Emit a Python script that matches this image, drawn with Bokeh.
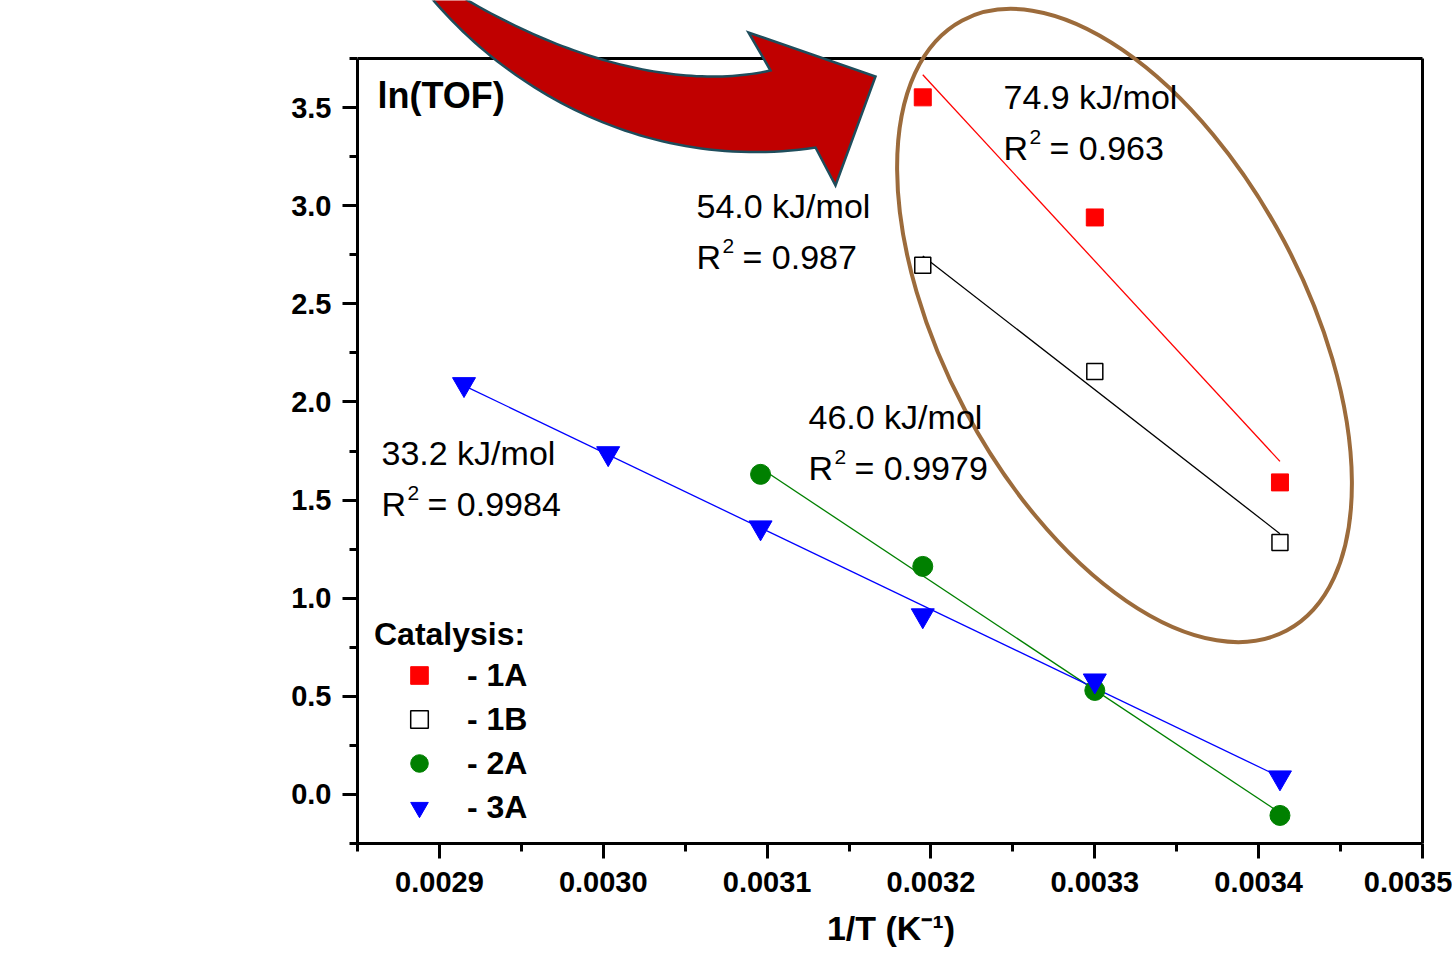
import numpy as np
from bokeh.plotting import figure
from bokeh.models import (Range1d, FixedTicker, PrintfTickFormatter, Label,
                          Legend, LegendItem)
from bokeh.embed import file_html
from bokeh.resources import INLINE

# ---------------- data ----------------
x_1A = [0.003195, 0.003300, 0.003413]
y_1A = [3.552, 2.940, 1.590]
x_1B = [0.003195, 0.003300, 0.003413]
y_1B = [2.696, 2.155, 1.284]
x_2A = [0.003096, 0.003195, 0.003300, 0.003413]
y_2A = [1.631, 1.162, 0.530, -0.107]
x_3A = [0.002915, 0.003003, 0.003096, 0.003195, 0.003300, 0.003413]
y_3A = [2.090, 1.738, 1.360, 0.912, 0.580, 0.086]

series_labels = ["- 1A", "- 1B", "- 2A", "- 3A"]
activation_energy = ["74.9 kJ/mol", "54.0 kJ/mol", "46.0 kJ/mol", "33.2 kJ/mol"]
r_squared = ["0.963", "0.987", "0.9979", "0.9984"]

x_ticks = [0.0029, 0.0030, 0.0031, 0.0032, 0.0033, 0.0034, 0.0035]
x_minor_ticks = [0.00285, 0.00295, 0.00305, 0.00315, 0.00325, 0.00335, 0.00345]
y_ticks = [0.0, 0.5, 1.0, 1.5, 2.0, 2.5, 3.0, 3.5]
y_minor_ticks = [-0.25, 0.25, 0.75, 1.25, 1.75, 2.25, 2.75, 3.25, 3.75]

X_START, X_END = 0.00285, 0.0035
Y_START, Y_END = -0.25, 3.75

# ---------------- layout (pixels) ----------------
W, H = 1452, 960
LEFT, RIGHT_BOX, BOTTOM, TOP_BOX = 357, 1422, 843, 58
FRAME_RIGHT = 1424
SX = (RIGHT_BOX - LEFT) / (X_END - X_START)
SY = (BOTTOM - TOP_BOX) / (Y_END - Y_START)


def dx(px):
    return X_START + (px - LEFT) / SX


def dy(py):
    return Y_START + (BOTTOM - py) / SY


FONT = "Liberation Sans"

p = figure(width=W, height=H,
           x_range=Range1d(X_START, dx(FRAME_RIGHT)),
           y_range=Range1d(Y_START, dy(0)),
           min_border_left=LEFT, min_border_right=W - FRAME_RIGHT,
           min_border_top=0, min_border_bottom=H - BOTTOM,
           toolbar_location=None, output_backend="svg",
           outline_line_color=None, background_fill_color="white",
           border_fill_color="white")
p.grid.visible = False

for ax in (p.xaxis[0], p.yaxis[0]):
    ax.axis_line_width = 3
    ax.axis_line_color = "black"
    ax.major_tick_line_width = 3
    ax.minor_tick_line_width = 3
    ax.major_tick_out = 15
    ax.major_tick_in = 0
    ax.minor_tick_out = 8
    ax.minor_tick_in = 0
    ax.major_label_text_font = FONT
    ax.major_label_text_font_size = "29px"
    ax.major_label_text_font_style = "bold"
    ax.major_label_text_color = "black"

p.xaxis.ticker = FixedTicker(ticks=x_ticks, minor_ticks=x_minor_ticks)
p.xaxis.bounds = (X_START, X_END)
p.xaxis.formatter = PrintfTickFormatter(format="%.4f")
p.xaxis.major_label_standoff = 13
p.xaxis.axis_label = "1/T (K\u207b\u00b9)"
p.xaxis.axis_label_text_font = FONT
p.xaxis.axis_label_text_font_size = "34px"
p.xaxis.axis_label_text_font_style = "bold"
p.xaxis.axis_label_text_color = "black"
p.xaxis.axis_label_standoff = 14

p.yaxis.ticker = FixedTicker(ticks=y_ticks, minor_ticks=y_minor_ticks)
p.yaxis.bounds = (Y_START, Y_END)
p.yaxis.formatter = PrintfTickFormatter(format="%.1f")
p.yaxis.major_label_standoff = 11

# box top / right edges
p.line([X_START, X_END], [Y_END, Y_END], line_color="black", line_width=3)
p.line([X_END, X_END], [Y_START, Y_END], line_color="black", line_width=3)

# ---------------- fits and points ----------------
series = [
    (x_1A, y_1A, "#FF0000"),
    (x_1B, y_1B, "#000000"),
    (x_2A, y_2A, "#008000"),
    (x_3A, y_3A, "#0000FF"),
]
for xs, ys, col in series:
    k, b = np.polyfit(xs, ys, 1)
    xe = [min(xs), max(xs)]
    p.line(xe, [k * v + b for v in xe], line_color=col, line_width=1.3)

r1A = p.scatter(x_1A, y_1A, marker="square", size=17,
                fill_color="#FF0000", line_color="#FF0000")
r1B = p.scatter(x_1B, y_1B, marker="square", size=16,
                fill_color="white", line_color="black", line_width=1.5)
r2A = p.scatter(x_2A, y_2A, marker="circle", size=20,
                fill_color="#008000", line_color="#008000")
r3A = p.scatter(x_3A, y_3A, marker="inverted_triangle", size=23,
                fill_color="#0000FF", line_color="#0000FF")

# ---------------- decorations: curved arrow and ellipse ----------------
def cubic(p0, p1, p2, p3, n=60):
    t = np.linspace(0, 1, n)[:, None]
    P = [np.array(q, float) for q in (p0, p1, p2, p3)]
    return ((1 - t) ** 3) * P[0] + 3 * (1 - t) ** 2 * t * P[1] + \
        3 * (1 - t) * t ** 2 * P[2] + t ** 3 * P[3]


upper = cubic((443, -15), (560, 60), (680, 90), (770, 70))
head = np.array([(748, 32), (875, 76), (835, 185), (815, 147)], float)
lower = cubic((815, 147), (650, 172), (500, 92), (413, -25))
pts = np.vstack([upper, head, lower])
p.patch([dx(v) for v in pts[:, 0]], [dy(v) for v in pts[:, 1]],
        fill_color="#C00000", line_color="#1E4D5C", line_width=2.5,
        line_join="miter")

p.ellipse(x=[dx(1124)], y=[dy(325)], width=691, height=361,
          width_units="screen", height_units="screen",
          angle=np.deg2rad(-62), fill_color=None,
          line_color="#9C6B3B", line_width=4)

# ---------------- texts ----------------
BASELINE_FIX = 12  # Label alphabetic baseline renders this much lower


def add_text(px, py, text, size, bold=False):
    p.add_layout(Label(x=dx(px), y=dy(py - BASELINE_FIX), text=text,
                       text_font=FONT, text_font_size=f"{size}px",
                       text_font_style="bold" if bold else "normal",
                       text_color="black", text_align="left",
                       text_baseline="alphabetic"))


add_text(377, 107, "ln(TOF)", 36, bold=True)

fit_text_pos = [(1003, 108), (696, 217), (808, 428), (381, 464)]
for (px, py), e, r2 in zip(fit_text_pos, activation_energy, r_squared):
    add_text(px, py, e, 34)
    add_text(px, py + 51, "R", 34)
    add_text(px + 26, py + 40, "2", 21)
    add_text(px + 46, py + 51, "= " + r2, 34)

# ---------------- legend ----------------
legend = Legend(
    items=[LegendItem(label=lab, renderers=[r])
           for lab, r in zip(series_labels, [r1A, r1B, r2A, r3A])],
    location=(374 - LEFT, BOTTOM - 829),
    title="Catalysis:", title_text_font=FONT, title_text_font_size="32px",
    title_text_font_style="bold", title_text_color="black", title_standoff=0,
    label_text_font=FONT, label_text_font_size="32px",
    label_text_font_style="bold", label_text_color="black",
    glyph_width=90, glyph_height=44, label_height=44, label_standoff=3,
    spacing=0, padding=0, margin=0,
    border_line_color=None, background_fill_alpha=0)
p.add_layout(legend)

open("out.html", "w").write(file_html(p, INLINE))
